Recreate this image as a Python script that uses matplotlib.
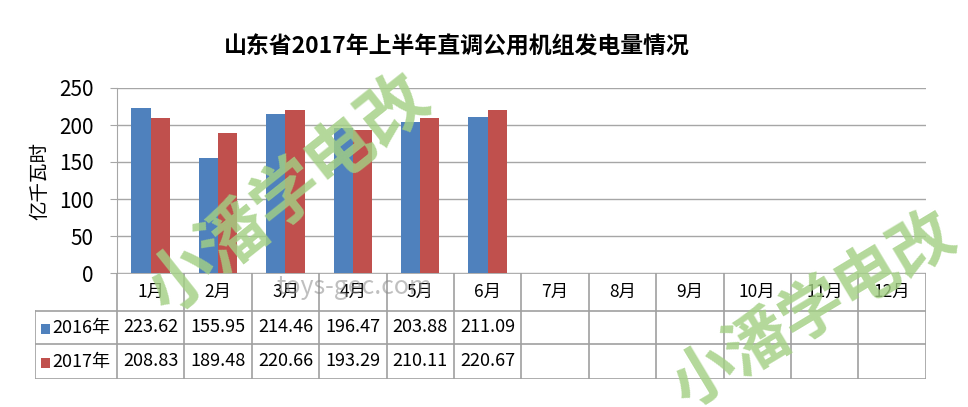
import matplotlib
matplotlib.use("Agg")
import matplotlib.pyplot as plt
import numpy as np

plt.rcParams['font.family'] = ['Noto Sans CJK SC', 'DejaVu Sans']

title = "山东省2017年上半年直调公用机组发电量情况"
months = ["1月", "2月", "3月", "4月", "5月", "6月", "7月", "8月", "9月", "10月", "11月", "12月"]
series_names = ["2016年", "2017年"]
values_2016 = [223.62, 155.95, 214.46, 196.47, 203.88, 211.09]
values_2017 = [208.83, 189.48, 220.66, 193.29, 210.11, 220.67]
colors = ["#4f81bd", "#c0504d"]
y_label = "亿千瓦时"
y_ticks = [0, 50, 100, 150, 200, 250]

W, H = 968, 407
fig = plt.figure(figsize=(W / 100, H / 100), dpi=100)

def fx(px):
    return px / W

def fy(py):
    return 1 - py / H

gridc = "#a6a6a6"
linec = "#a0a0a0"

# plot area
x0, x1, ytop, ybot = 117, 925.7, 88, 273
ax = fig.add_axes([fx(x0), fy(ybot), fx(x1) - fx(x0), fy(ytop) - fy(ybot)])
n = len(months)
bw = 0.285
xs = np.arange(len(values_2016))
ax.bar(xs - bw / 2, values_2016, bw, color=colors[0], zorder=3)
ax.bar(xs + bw / 2, values_2017, bw, color=colors[1], zorder=3)
ax.set_xlim(-0.5, n - 0.5)
ax.set_ylim(0, 250)
ax.set_yticks(y_ticks)
ax.set_yticklabels([str(t) for t in y_ticks], fontsize=15)
ax.set_xticks([])
ax.yaxis.grid(True, color=gridc, linewidth=1, zorder=0)
for s in ["top", "right", "bottom"]:
    ax.spines[s].set_visible(False)
ax.spines["left"].set_color(gridc)
ax.tick_params(axis="y", length=5, color=gridc, pad=12)
ax.set_ylabel(y_label, fontsize=14, labelpad=6)

# data table
label_w = (x0 - 35) / ((x1 - x0) / n)
tb_top, tb_bot = 273, 379
tax = fig.add_axes([fx(35), fy(tb_bot), fx(x1) - fx(35), fy(tb_top) - fy(tb_bot)])
tax.set_xlim(-0.5 - label_w, n - 0.5)
row_h = [38, 33, 35]
tot = sum(row_h)
edges = [3, 3 - 3 * row_h[0] / tot, 3 - 3 * (row_h[0] + row_h[1]) / tot, 0]
tax.set_ylim(0, 3)
tax.axis("off")
L = -0.5 - label_w
R = n - 0.5
tax.plot([-0.5, R], [edges[0]] * 2, color=linec, lw=1.2)
for e in edges[1:]:
    tax.plot([L, R], [e, e], color=linec, lw=1.2)
for i in range(n + 1):
    tax.plot([i - 0.5, i - 0.5], [0, 3], color=linec, lw=1.2)
tax.plot([L, L], [0, edges[1]], color=linec, lw=1.2)

def ymid(r):
    return (edges[r] + edges[r + 1]) / 2

for i, m in enumerate(months):
    tax.text(i, ymid(0), m, ha="center", va="center", fontsize=12.5)
for r, (name, vals, c) in enumerate(zip(series_names, [values_2016, values_2017], colors)):
    yy = ymid(r + 1)
    tax.add_patch(plt.Rectangle((L + 0.09, yy - 0.19), 0.13, 0.30, color=c, lw=0))
    tax.text(L + 0.26, yy, name, ha="left", va="center", fontsize=13)
    for i, v in enumerate(vals):
        tax.text(i, yy, f"{v:.2f}", ha="center", va="center", fontsize=13)

fig.text(0.472, fy(47), title, ha="center", va="center", fontsize=16.5, fontweight="bold")

# watermarks
wm = "小潘学电改"
fig.text(fx(288), fy(195), wm, ha="center", va="center", fontsize=49, fontweight="heavy",
         rotation=38.5, color="#a3d084", alpha=0.82, zorder=10)
fig.text(fx(814), fy(310), wm, ha="center", va="center", fontsize=46, fontweight="heavy",
         rotation=31, color="#a3d084", alpha=0.82, zorder=10)
fig.text(fx(354), fy(287), "toys-gec.com", ha="center", va="center", fontsize=18,
         color="#8c8c8c", alpha=0.55, zorder=10)

fig.savefig("out.png", dpi=100)
